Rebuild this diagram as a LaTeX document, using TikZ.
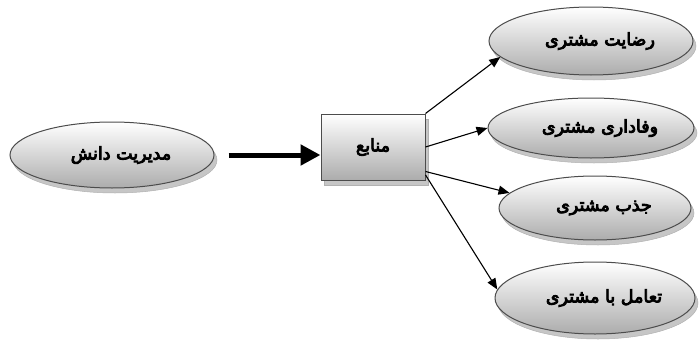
\documentclass[tikz,border=0pt]{standalone}
\usepackage{fontspec}
\newfontfamily\arabicfont[Script=Arabic,FakeBold=5]{DejaVu Sans}
\TeXXeTstate=1
\usetikzlibrary{arrows.meta,shadows,shapes.geometric}
\newcommand{\rtltext}[1]{\hspace*{18pt}\beginR #1\endR}
\tikzset{
  shade3d/.style={draw=gray!60!black, line width=1pt, top color=white, bottom color=gray!65,
    general shadow={shadow xshift=3pt, shadow yshift=-5pt, fill=gray!45, draw=gray!60, line width=0.5pt}},
  oval/.style={ellipse, shade3d, inner sep=0pt, font=\arabicfont\fontsize{17.5}{20}\selectfont},
  srcbox/.style={rectangle, shade3d, inner sep=0pt, font=\arabicfont\fontsize{17.5}{20}\selectfont},
  thin/.style={line width=1.1pt, -{Triangle[length=11pt,width=9pt]}},
  thick/.style={line width=5pt, -{Triangle[length=20pt,width=20pt]}}
}
\begin{document}
\begin{tikzpicture}[x=1pt,y=-1pt]
\useasboundingbox (0,0) rectangle (699,343);
\node[oval, minimum width=204pt, minimum height=66pt] (km) at (112,155) {\rtltext{مدیریت دانش}};
\node[srcbox, minimum width=104pt, minimum height=66pt] (src) at (373,147) {\beginR منابع\endR};
\node[oval, minimum width=204pt, minimum height=68pt] (e1) at (591,41) {\rtltext{رضایت مشتری}};
\node[oval, minimum width=206pt, minimum height=60pt] (e2) at (591,128) {\rtltext{وفاداری مشتری}};
\node[oval, minimum width=192pt, minimum height=64pt] (e3) at (595,208) {\rtltext{جذب مشتری}};
\node[oval, minimum width=200pt, minimum height=72pt] (e4) at (595,298) {\rtltext{تعامل با مشتری}};
\draw[thick, shorten <=14pt] (km.east) -- (km.east -| src.west);
\draw[thin] (src.north east) -- (e1.190);
\draw[thin] (src.east) -- (e2.west);
\draw[thin] (src.-25) -- (e3.170);
\draw[thin] (src.-28) -- (e4.175);
\end{tikzpicture}
\end{document}
